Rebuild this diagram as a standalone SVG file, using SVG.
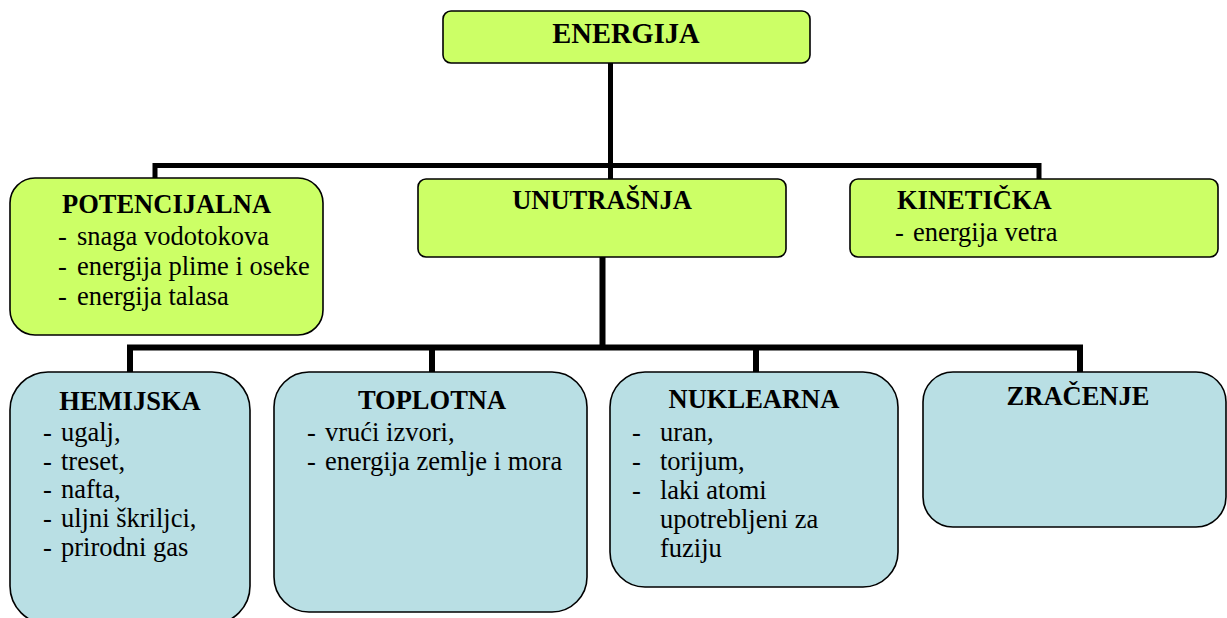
<svg xmlns="http://www.w3.org/2000/svg" width="1227" height="618" viewBox="0 0 1227 618" font-family="Liberation Serif, DejaVu Serif, serif">
<style>
.g{fill:#CCFF66;stroke:#000;stroke-width:1.6}
.b{fill:#B9DFE4;stroke:#000;stroke-width:1.6}
text{font-family:'Liberation Serif','DejaVu Serif',serif;font-size:26.5px;fill:#000}
.t{font-weight:bold}
.c{fill:none;stroke:#000;stroke-linecap:butt;stroke-linejoin:miter}
</style>
<rect width="1227" height="618" fill="#fff"/>
<g id="connectors">
<path class="c" stroke-width="5" d="M610.5,63 V180 M155,178 V165.5 H1039 V179"/>
<path class="c" stroke-width="6" d="M602.5,257 V347.5 M130,372 V347.5 H1080 V372 M432,347.5 V372 M756,347.5 V372"/>
</g>
<g id="energija">
<rect class="g" x="443" y="11" width="367" height="52" rx="8"/>
<text class="t" x="626" y="43" text-anchor="middle" style="font-size:28.5px">ENERGIJA</text>
</g>
<g id="potencijalna">
<rect class="g" x="10" y="178" width="313" height="157" rx="25"/>
<text class="t" x="166.5" y="213" text-anchor="middle">POTENCIJALNA</text>
<text x="58" y="245">-</text><text x="77" y="245">snaga vodotokova</text>
<text x="58" y="275">-</text><text x="77" y="275">energija plime i oseke</text>
<text x="58" y="305">-</text><text x="77" y="305">energija talasa</text>
</g>
<g id="unutrasnja">
<rect class="g" x="418" y="179" width="368" height="78" rx="8"/>
<text class="t" x="602" y="209" text-anchor="middle">UNUTRAŠNJA</text>
</g>
<g id="kineticka">
<rect class="g" x="850" y="179" width="368" height="78" rx="8"/>
<text class="t" x="897" y="209">KINETIČKA</text>
<text x="895" y="241">-</text><text x="913" y="241">energija vetra</text>
</g>
<g id="hemijska">
<rect class="b" x="10" y="372" width="240" height="252" rx="38"/>
<text class="t" x="130" y="410" text-anchor="middle">HEMIJSKA</text>
<text x="43" y="441">-</text><text x="61" y="441">ugalj,</text>
<text x="43" y="470">-</text><text x="61" y="470">treset,</text>
<text x="43" y="498">-</text><text x="61" y="498">nafta,</text>
<text x="43" y="527">-</text><text x="61" y="527">uljni škriljci,</text>
<text x="43" y="556">-</text><text x="61" y="556">prirodni gas</text>
</g>
<g id="toplotna">
<rect class="b" x="274" y="372" width="313" height="240" rx="35"/>
<text class="t" x="432" y="409" text-anchor="middle">TOPLOTNA</text>
<text x="307" y="441">-</text><text x="325" y="441">vrući izvori,</text>
<text x="307" y="470">-</text><text x="325" y="470">energija zemlje i mora</text>
</g>
<g id="nuklearna">
<rect class="b" x="610" y="372" width="288" height="215" rx="35"/>
<text class="t" x="754" y="408" text-anchor="middle">NUKLEARNA</text>
<text x="632" y="441">-</text><text x="660" y="441">uran,</text>
<text x="632" y="470">-</text><text x="660" y="470">torijum,</text>
<text x="632" y="499">-</text><text x="660" y="499">laki atomi</text>
<text x="660" y="528">upotrebljeni za</text>
<text x="660" y="557">fuziju</text>
</g>
<g id="zracenje">
<rect class="b" x="923" y="372" width="303" height="155" rx="30"/>
<text class="t" x="1078" y="405" text-anchor="middle">ZRAČENJE</text>
</g>
</svg>
